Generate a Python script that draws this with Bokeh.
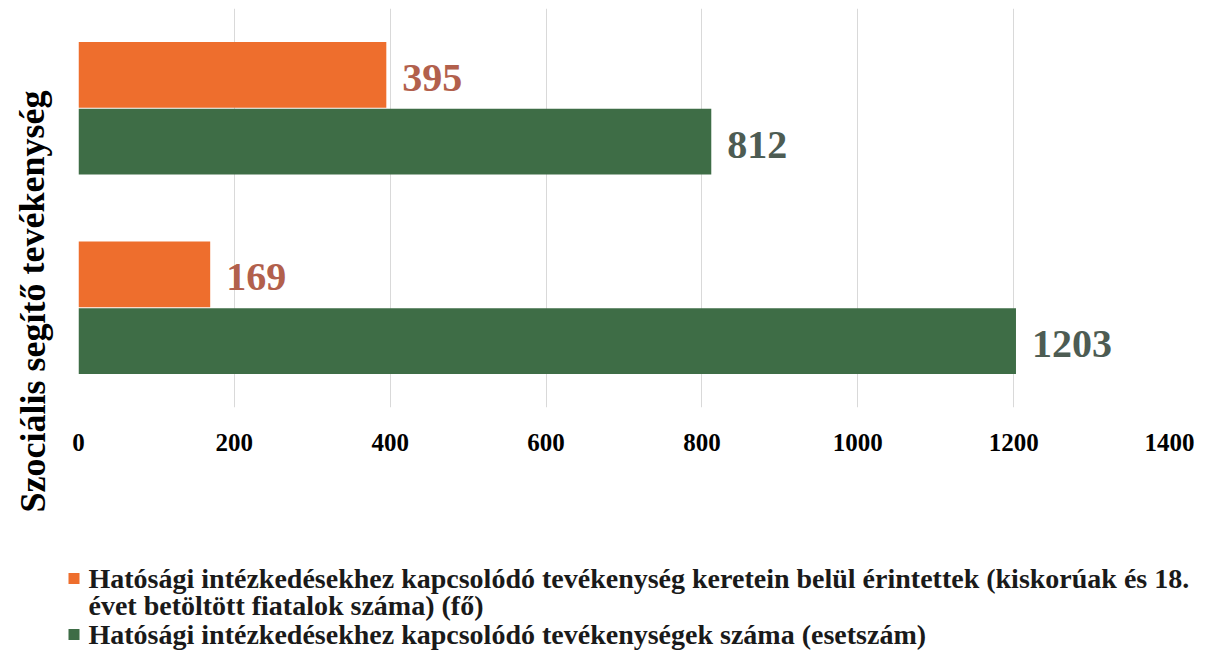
from bokeh.plotting import figure
from bokeh.models import ColumnDataSource, FactorRange, LabelSet, Label, BoxAnnotation, FixedTicker
from bokeh.layouts import row, column
from bokeh.transform import dodge
from bokeh.embed import file_html
from bokeh.resources import INLINE

# ---- data ----
groups = ["B", "A"]              # bottom group, top group (unlabelled in source)
series_names = [
    "Hatósági intézkedésekhez kapcsolódó tevékenység keretein belül érintettek (kiskorúak és 18.\névet betöltött fiatalok száma) (fő)",
    "Hatósági intézkedésekhez kapcsolódó tevékenységek száma (esetszám)",
]
affected = [169, 395]            # orange series
cases = [1203, 812]              # green series
x_ticks = [0, 200, 400, 600, 800, 1000, 1200, 1400]
y_title = "Szociális segítő tevékenység"

ORANGE = "#EE6E2D"
GREEN = "#3E6D46"
ORANGE_TXT = "#B2604C"
GREEN_TXT = "#4D5C53"
SERIF = "Liberation Serif"

TOTAL_H = 660
TITLE_W = 56
MAIN_W = 1205 - TITLE_W
MAIN_H = 460
LEG_H = TOTAL_H - MAIN_H


def blank(w, h):
    fig = figure(width=w, height=h, output_backend="svg", toolbar_location=None,
                 x_range=(0, 1), y_range=(0, 1), x_axis_type=None, y_axis_type=None,
                 min_border_left=0, min_border_right=0, min_border_top=0, min_border_bottom=0)
    fig.grid.grid_line_color = None
    fig.outline_line_color = None
    fig.frame_align = False
    return fig


src = ColumnDataSource(dict(
    grp=groups, a=affected, c=cases,
    a_txt=[str(v) for v in affected], c_txt=[str(v) for v in cases],
))

# ---- main chart ----
p = figure(width=MAIN_W, height=MAIN_H, output_backend="svg", toolbar_location=None,
           y_range=FactorRange(factors=groups, range_padding=0),
           x_range=(0, 1400),
           min_border_left=78 - TITLE_W, min_border_right=36, min_border_top=8,
           min_border_bottom=MAIN_H - 407)
p.outline_line_color = None
p.frame_align = False

off = 0.167
h = 0.33
p.hbar(y=dodge("grp", off, range=p.y_range), right="a", left=0, height=h, source=src,
       fill_color=ORANGE, line_color=None)
p.hbar(y=dodge("grp", -off, range=p.y_range), right="c", left=0, height=h, source=src,
       fill_color=GREEN, line_color=None)

p.add_layout(LabelSet(x="a", y=dodge("grp", off, range=p.y_range), text="a_txt", source=src,
                      x_offset=16, y_offset=-3, text_baseline="middle", text_font=SERIF,
                      text_font_style="bold", text_font_size="40px", text_color=ORANGE_TXT))
p.add_layout(LabelSet(x="c", y=dodge("grp", -off, range=p.y_range), text="c_txt", source=src,
                      x_offset=16, y_offset=-3, text_baseline="middle", text_font=SERIF,
                      text_font_style="bold", text_font_size="40px", text_color=GREEN_TXT))

p.yaxis.visible = False
p.ygrid.grid_line_color = None
p.xgrid.grid_line_color = "#D9D9D9"
p.xaxis.ticker = FixedTicker(ticks=x_ticks)
p.xaxis.axis_line_color = None
p.xaxis.major_tick_line_color = None
p.xaxis.minor_tick_line_color = None
p.xaxis.major_label_text_font = SERIF
p.xaxis.major_label_text_font_style = "bold"
p.xaxis.major_label_text_font_size = "25px"
p.xaxis.major_label_text_color = "#000000"
p.xaxis.major_label_standoff = 20

# ---- y title ----
t = blank(TITLE_W, TOTAL_H)
t.add_layout(Label(x=32, y=TOTAL_H - 301, x_units="screen", y_units="screen", text=y_title,
                   angle=1.5708, text_align="center", text_baseline="middle",
                   text_font=SERIF, text_font_style="bold", text_font_size="36px",
                   text_color="#000000"))

# ---- legend ----
lg = blank(MAIN_W, LEG_H)
leg_colors = [ORANGE, GREEN]
leg_y = [TOTAL_H - 578, TOTAL_H - 634]
for name, col, ly in zip(series_names, leg_colors, leg_y):
    lg.add_layout(BoxAnnotation(left=68 - TITLE_W, right=79 - TITLE_W, bottom=ly - 5.5, top=ly + 5.5,
                                left_units="screen", right_units="screen",
                                bottom_units="screen", top_units="screen",
                                fill_color=col, fill_alpha=1, line_color=None))
    for i, line in enumerate(name.split("\n")):
        lg.add_layout(Label(x=88 - TITLE_W, y=ly - 27 * i, x_units="screen", y_units="screen",
                            text=line, text_align="left", text_baseline="middle",
                            text_font=SERIF, text_font_style="bold", text_font_size="28px",
                            text_color="#1a1a1a"))

layout = row(t, column(p, lg))
open("out.html", "w").write(file_html(layout, INLINE))
